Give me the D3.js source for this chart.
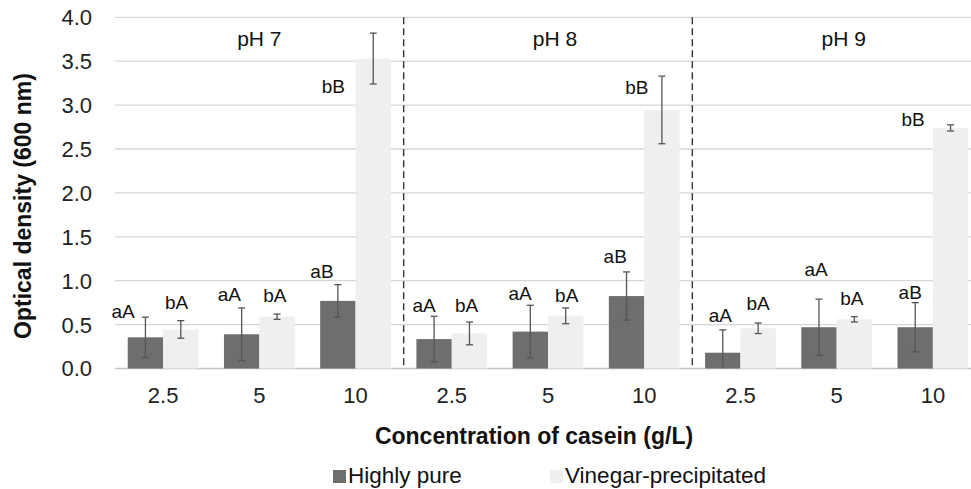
<!DOCTYPE html>
<html><head><meta charset="utf-8">
<script src="https://cdn.jsdelivr.net/npm/d3@7"></script>
<style>body{margin:0;background:#fff}svg{display:block;font-family:"Liberation Sans",Arial,sans-serif}</style>
</head><body><svg id="c" width="971" height="489"></svg>
<script>
const groups = ["pH 7","pH 8","pH 9"];
const concentrations = ["2.5","5","10"];
const seriesNames = ["Highly pure","Vinegar-precipitated"];
const highlyPure      = [0.355,0.39,0.77, 0.335,0.42,0.825, 0.18,0.47,0.47];
const highlyPureErr   = [0.23,0.30,0.185, 0.26,0.30,0.275, 0.26,0.32,0.28];
const vinegar         = [0.445,0.59,3.53, 0.40,0.60,2.945, 0.458,0.56,2.74];
const vinegarErr      = [0.10,0.03,0.29, 0.13,0.09,0.385, 0.06,0.03,0.035];
const hpLetters = ["aA","aA","aB","aA","aA","aB","aA","aA","aB"];
const vpLetters = ["bA","bA","bB","bA","bA","bB","bA","bA","bB"];
// label anchors (value at baseline, shift in bar widths)
const hpLabelAt = [0.575,0.772,1.03, 0.647,0.78,1.198, 0.533,1.053,0.788];
const hpLabelShift = [-0.63,-0.35,-0.45, -0.28,-0.29,-0.32, -0.07,-0.08,-0.14];
const vpLabelAt = [0.674,0.761,3.14, 0.647,0.761,3.126, 0.666,0.723,2.762];
const vpLabelShift = [-0.12,-0.06,-1.13, -0.08,0.03,-0.71, 0,-0.07,-1.06];
const yTicks = [0,0.5,1,1.5,2,2.5,3,3.5,4];

const svg = d3.select("#c");
const L=115, R=981, T=17.3, B=368.5;
const idx = d3.range(9);
const x0 = d3.scaleBand().domain(idx).range([L,R]);
const x1 = d3.scaleBand().domain([0,1]).range([0,x0.bandwidth()]).paddingOuter(0.36);
const y = d3.scaleLinear().domain([0,4]).range([B,T]);
const bw = x1.bandwidth();
const colors = ["#6e6e6e","#efefef"];

// gridlines
svg.append("g").selectAll("line").data(yTicks).join("line")
  .attr("x1",L).attr("x2",971).attr("y1",d=>y(d)).attr("y2",d=>y(d))
  .attr("stroke",d=>d===0?"#c4c4c4":"#d6d6d6").attr("stroke-width",1.3);

// y tick labels
svg.append("g").selectAll("text").data(yTicks).join("text")
  .attr("x",92).attr("y",d=>y(d)).attr("dy","0.36em").attr("text-anchor","end")
  .attr("font-size",22).attr("fill","#222").text(d=>d.toFixed(1));

// group separators
svg.append("g").selectAll("line").data([1,2]).join("line")
  .attr("x1",g=>x0(g*3)).attr("x2",g=>x0(g*3)).attr("y1",T).attr("y2",B)
  .attr("stroke","#333").attr("stroke-width",1.4).attr("stroke-dasharray","7,4");

// group labels
svg.append("g").selectAll("text").data(groups).join("text")
  .attr("x",(d,i)=>x0(i*3)+x0.bandwidth()*1.5+(i?7:0)).attr("y",46)
  .attr("text-anchor","middle").attr("font-size",21).attr("fill","#111").text(d=>d);

const series = [
  {vals:highlyPure, err:highlyPureErr, lab:hpLetters, at:hpLabelAt, sh:hpLabelShift, k:0},
  {vals:vinegar, err:vinegarErr, lab:vpLetters, at:vpLabelAt, sh:vpLabelShift, k:1}
];
series.forEach(s=>{
  const g = svg.append("g");
  g.selectAll("rect").data(idx).join("rect")
    .attr("x",i=>x0(i)+x1(s.k)).attr("width",bw)
    .attr("y",i=>y(s.vals[i])).attr("height",i=>y(0)-y(s.vals[i]))
    .attr("fill",colors[s.k]);
});
series.forEach(s=>{
  const g = svg.append("g").attr("stroke","#555").attr("stroke-width",1.3);
  idx.forEach(i=>{
    const cx = x0(i)+x1(s.k)+bw/2;
    const lo = Math.max(0,s.vals[i]-s.err[i]), hi = s.vals[i]+s.err[i];
    g.append("line").attr("x1",cx).attr("x2",cx).attr("y1",y(lo)).attr("y2",y(hi));
    g.append("line").attr("x1",cx-3.5).attr("x2",cx+3.5).attr("y1",y(hi)).attr("y2",y(hi));
    if (s.vals[i]-s.err[i] > 0)
      g.append("line").attr("x1",cx-3.5).attr("x2",cx+3.5).attr("y1",y(lo)).attr("y2",y(lo));
  });
  svg.append("g").selectAll("text").data(idx).join("text")
    .attr("x",i=>x0(i)+x1(s.k)+bw/2+s.sh[i]*bw).attr("y",i=>y(s.at[i]))
    .attr("text-anchor","middle").attr("font-size",19).attr("fill","#111")
    .text(i=>s.lab[i]);
});

// x tick labels
svg.append("g").selectAll("text").data(idx).join("text")
  .attr("x",i=>x0(i)+x0.bandwidth()/2).attr("y",403).attr("text-anchor","middle")
  .attr("font-size",22).attr("fill","#222").text(i=>concentrations[i%3]);

// axis titles
svg.append("text").attr("x",534).attr("y",444).attr("text-anchor","middle")
  .attr("font-size",23).attr("font-weight","bold").attr("fill","#111")
  .text("Concentration of casein (g/L)");
svg.append("text").attr("transform","translate(31,206) rotate(-90)").attr("text-anchor","middle")
  .attr("font-size",23).attr("font-weight","bold").attr("fill","#111")
  .text("Optical density (600 nm)");

// legend
const leg = svg.append("g");
const legX = [333,550];
seriesNames.forEach((n,k)=>{
  leg.append("rect").attr("x",legX[k]).attr("y",470).attr("width",13).attr("height",13).attr("fill",colors[k]);
  leg.append("text").attr("x",legX[k]+15).attr("y",483).attr("font-size",22.5).attr("fill","#111").text(n);
});
</script></body></html>
